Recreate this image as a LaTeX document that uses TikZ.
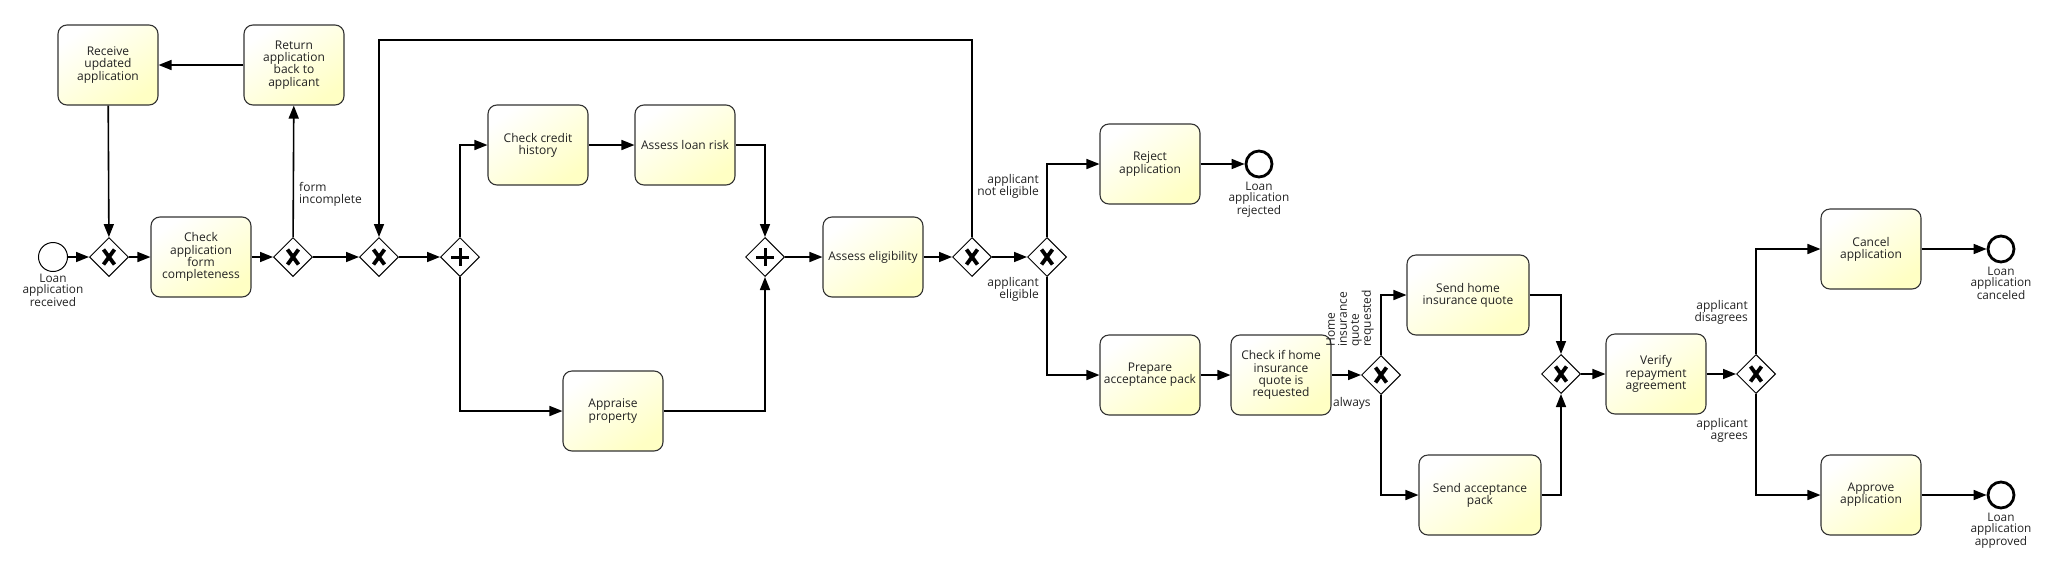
\documentclass[tikz,border=0pt]{standalone}
\usepackage{fontspec}
\setmainfont{Open Sans}
\usetikzlibrary{shapes.geometric,arrows.meta}

\definecolor{taskyellow}{RGB}{255,255,196}
\definecolor{textgray}{RGB}{34,34,34}

\begin{document}
\begin{tikzpicture}[x=1pt,y=-1pt,
    task/.style={draw=black!80,line width=1.1pt,rounded corners=9pt,minimum width=100pt,minimum height=80pt,
        inner sep=1pt,align=center,text=textgray,font=\fontsize{12}{12.2}\selectfont,
        top color=white,bottom color=taskyellow,shading angle=35},
    xgate/.style={diamond,draw,fill=white,line width=1pt,minimum width=39pt,minimum height=39pt,inner sep=0pt,
        path picture={
            \draw[line width=3.8pt] ([shift={(-5.5,-7.5)}]path picture bounding box.center) -- ([shift={(5.5,7.5)}]path picture bounding box.center);
            \draw[line width=3.8pt] ([shift={(-5.5,7.5)}]path picture bounding box.center) -- ([shift={(5.5,-7.5)}]path picture bounding box.center);}},
    pgate/.style={diamond,draw,fill=white,line width=1pt,minimum width=39pt,minimum height=39pt,inner sep=0pt,
        path picture={
            \draw[line width=3pt] ([shift={(-9,0)}]path picture bounding box.center) -- ([shift={(9,0)}]path picture bounding box.center);
            \draw[line width=3pt] ([shift={(0,-9)}]path picture bounding box.center) -- ([shift={(0,9)}]path picture bounding box.center);}},
    startev/.style={circle,draw,fill=white,line width=1pt,minimum size=29pt,inner sep=0pt},
    endev/.style={circle,draw,fill=white,line width=2.8pt,minimum size=26pt,inner sep=0pt},
    flow/.style={line width=1.6pt,-{Triangle[length=13pt,width=10pt]}},
    lbl/.style={inner sep=0pt,text=textgray,font=\fontsize{12}{12}\selectfont},
    evlbl/.style={inner sep=0pt,align=center,text=textgray,font=\fontsize{11.8}{11}\selectfont}]

    \useasboundingbox (0,0) rectangle (2054,571);

    % Start and completeness check
    \node[startev] (start) at (53,257) {};
    \node[evlbl,anchor=north] (startlbl) at (53,274) {Loan\\application\\received};
    \node[xgate] (gw1) at (109,257) {};
    \node[task] (receive) at (108,65) {Receive\\updated\\application};
    \node[task] (returnapp) at (294,65) {Return\\application\\back to\\applicant};
    \node[task] (checkform) at (201,257) {Check\\application\\form\\completeness};
    \node[xgate] (gw2) at (293,257) {};
    \node[xgate] (gw3) at (379,257) {};

    % Parallel checks
    \node[pgate] (fork) at (460,257) {};
    \node[task] (credit) at (538,145) {Check credit\\history};
    \node[task] (loanrisk) at (685,145) {Assess loan risk};
    \node[task] (appraise) at (613,411) {Appraise\\property};
    \node[pgate] (join) at (765,257) {};
    \node[task] (eligib) at (873,257) {Assess eligibility};
    \node[xgate] (gw4) at (972,257) {};
    \node[xgate] (gw5) at (1047,257) {};

    % Rejection
    \node[task] (reject) at (1150,164) {Reject\\application};
    \node[endev] (endrej) at (1259,164) {};
    \node[evlbl,anchor=north] (endrejlbl) at (1259,182) {Loan\\application\\rejected};

    % Acceptance
    \node[task] (prepare) at (1150,375) {Prepare\\acceptance pack};
    \node[task] (checkhome) at (1281,375) {Check if home\\insurance\\quote is\\requested};
    \node[xgate] (gw6) at (1381,375) {};
    \node[task,minimum width=122pt] (sendquote) at (1468,295) {Send home\\insurance quote};
    \node[task,minimum width=122pt] (sendpack) at (1480,495) {Send acceptance\\pack};
    \node[xgate] (gw7) at (1561,374) {};
    \node[task] (verify) at (1656,374) {Verify\\repayment\\agreement};
    \node[xgate] (gw8) at (1756,374) {};
    \node[task] (cancel) at (1871,249) {Cancel\\application};
    \node[endev] (endcan) at (2001,249) {};
    \node[evlbl,anchor=north] (endcanlbl) at (2001,267) {Loan\\application\\canceled};
    \node[task] (approve) at (1871,495) {Approve\\application};
    \node[endev] (endapp) at (2001,495) {};
    \node[evlbl,anchor=north] (endapplbl) at (2001,513) {Loan\\application\\approved};

    % Sequence flows
    \coordinate (looptop) at (0,40);
    \draw[flow] (start) -- (gw1);
    \draw[flow] (receive) -- (gw1);
    \draw[flow] (gw1) -- (checkform);
    \draw[flow] (checkform) -- (gw2);
    \draw[flow] (gw2) -- (returnapp);
    \draw[flow] (returnapp) -- (receive);
    \draw[flow] (gw2) -- (gw3);
    \draw[flow] (gw4.north) -- (gw4.north |- looptop) -| (gw3.north);
    \draw[flow] (gw3) -- (fork);
    \draw[flow] (fork.north) |- (credit.west);
    \draw[flow] (fork.south) |- (appraise.west);
    \draw[flow] (credit) -- (loanrisk);
    \draw[flow] (loanrisk.east) -| (join.north);
    \draw[flow] (appraise.east) -| (join.south);
    \draw[flow] (join) -- (eligib);
    \draw[flow] (eligib) -- (gw4);
    \draw[flow] (gw4) -- (gw5);
    \draw[flow] (gw5.north) |- (reject.west);
    \draw[flow] (gw5.south) |- (prepare.west);
    \draw[flow] (reject) -- (endrej);
    \draw[flow] (prepare) -- (checkhome);
    \draw[flow] (checkhome) -- (gw6);
    \draw[flow] (gw6.north) |- (sendquote.west);
    \draw[flow] (gw6.south) |- (sendpack.west);
    \draw[flow] (sendquote.east) -| (gw7.north);
    \draw[flow] (sendpack.east) -| (gw7.south);
    \draw[flow] (gw7) -- (verify);
    \draw[flow] (verify) -- (gw8);
    \draw[flow] (gw8.north) |- (cancel.west);
    \draw[flow] (gw8.south) |- (approve.west);
    \draw[flow] (cancel) -- (endcan);
    \draw[flow] (approve) -- (endapp);

    % Flow labels
    \node[lbl,anchor=west,align=left] (formlbl) at (299,194) {form\\incomplete};
    \node[lbl,anchor=east,align=right] (notelig) at (1039,186) {applicant\\not eligible};
    \node[lbl,anchor=east,align=right] (elig) at (1039,289) {applicant\\eligible};
    \node[lbl,anchor=west] (always) at (1333,403) {always};
    \node[lbl,anchor=south west,align=left,rotate=90] (quotelbl) at (1374,347) {Home\\insurance\\quote\\requested};
    \node[lbl,anchor=east,align=right] (disagree) at (1748,312) {applicant\\disagrees};
    \node[lbl,anchor=east,align=right] (agree) at (1748,430) {applicant\\agrees};

\end{tikzpicture}
\end{document}
